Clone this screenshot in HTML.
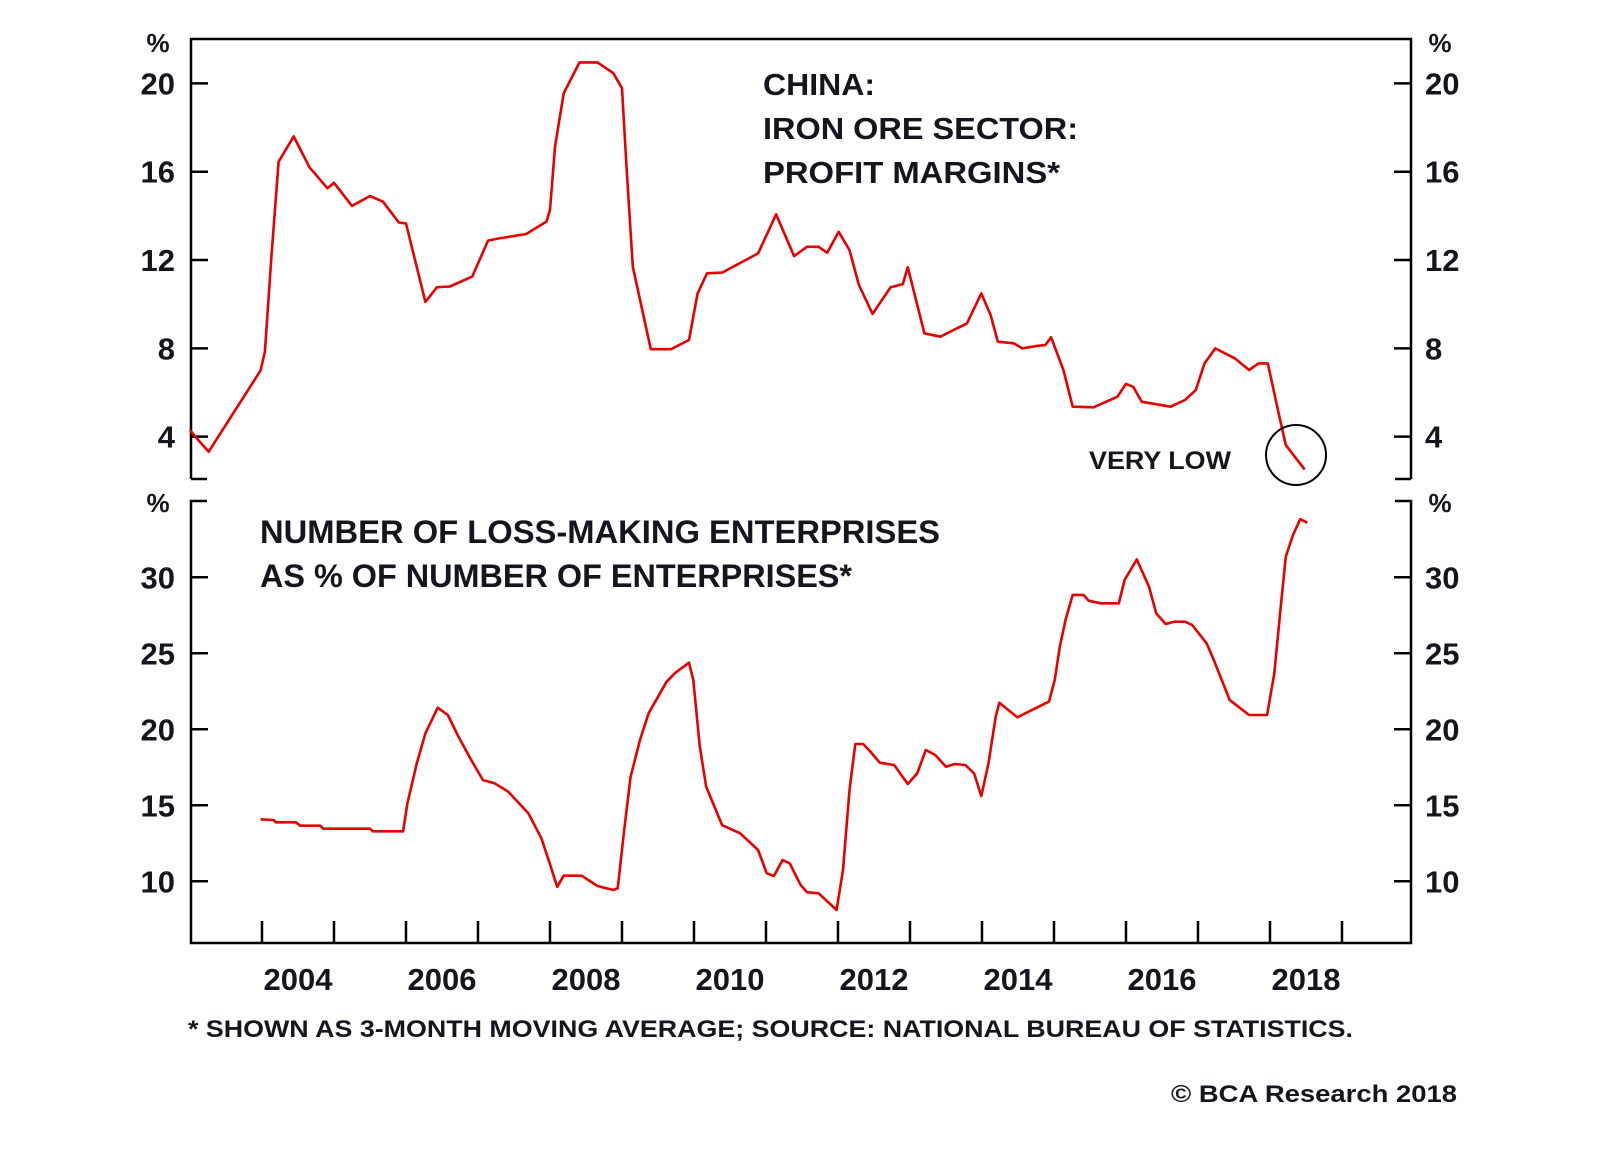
<!DOCTYPE html>
<html>
<head>
<meta charset="utf-8">
<style>
html,body{margin:0;padding:0;background:#fff;}
svg{display:block;}
text{font-family:"Liberation Sans",Arial,sans-serif;font-weight:bold;fill:#15151f;}
</style>
</head>
<body>
<svg id="chart" width="1600" height="1152" viewBox="0 0 1600 1152" xmlns="http://www.w3.org/2000/svg">
  <g id="frames" stroke="#000" stroke-width="2.5" fill="none">
    <polyline points="191,479 191,39 1411,39 1411,479"/>
    <line x1="191" y1="479" x2="207" y2="479"/>
    <line x1="1395" y1="479" x2="1411" y2="479"/>
    <polyline points="207,501 191,501 191,943 1411,943 1411,501 1395,501"/>
  </g>
  <g id="ticks" stroke="#000" stroke-width="2.5"></g>
  <g id="labels"></g>
  <g id="series"></g>

  <text x="158" y="52" font-size="26" text-anchor="middle">%</text>
  <text x="1440" y="52" font-size="26" text-anchor="middle">%</text>
  <text x="158" y="512" font-size="26" text-anchor="middle">%</text>
  <text x="1440" y="512" font-size="26" text-anchor="middle">%</text>

  <g>
    <text x="763" y="95" font-size="31" textLength="112" lengthAdjust="spacingAndGlyphs">CHINA:</text>
    <text x="763" y="139" font-size="31" textLength="315" lengthAdjust="spacingAndGlyphs">IRON ORE SECTOR:</text>
    <text x="763" y="183" font-size="31" textLength="297" lengthAdjust="spacingAndGlyphs">PROFIT MARGINS*</text>
  </g>
  <g>
    <text x="260" y="543" font-size="32" textLength="680" lengthAdjust="spacingAndGlyphs">NUMBER OF LOSS-MAKING ENTERPRISES</text>
    <text x="260" y="587" font-size="32" textLength="592" lengthAdjust="spacingAndGlyphs">AS % OF NUMBER OF ENTERPRISES*</text>
  </g>
  <text x="1089" y="469" font-size="25" textLength="142" lengthAdjust="spacingAndGlyphs">VERY LOW</text>
  <circle cx="1296" cy="455" r="30" fill="none" stroke="#000" stroke-width="2"/>
  <text x="188" y="1037" font-size="24" textLength="1165" lengthAdjust="spacingAndGlyphs">* SHOWN AS 3-MONTH MOVING AVERAGE; SOURCE: NATIONAL BUREAU OF STATISTICS.</text>
  <text x="1171" y="1102" font-size="24" textLength="286" lengthAdjust="spacingAndGlyphs">© BCA Research 2018</text>
</svg>
<script>
// ---- data ----
const xTickYears = [2004,2005,2006,2007,2008,2009,2010,2011,2012,2013,2014,2015,2016,2017,2018,2019];
const xLabelYears = [2004,2006,2008,2010,2012,2014,2016,2018];
const topTicks = [4,8,12,16,20];
const bottomTicks = [10,15,20,25,30];

const marginDates = [2003.0,2003.08,2003.26,2003.98,2004.04,2004.13,2004.23,2004.44,2004.66,2004.91,2005.0,2005.25,2005.5,2005.68,2005.9,2006.0,2006.27,2006.43,2006.61,2006.92,2007.14,2007.29,2007.67,2007.95,2008.0,2008.07,2008.19,2008.41,2008.66,2008.88,2009.0,2009.06,2009.15,2009.4,2009.68,2009.93,2010.05,2010.18,2010.39,2010.89,2011.14,2011.39,2011.57,2011.73,2011.85,2012.01,2012.16,2012.29,2012.48,2012.73,2012.9,2012.97,2013.2,2013.42,2013.79,2013.99,2014.12,2014.22,2014.44,2014.56,2014.74,2014.88,2014.96,2015.13,2015.26,2015.55,2015.88,2016.0,2016.1,2016.22,2016.62,2016.82,2016.97,2017.09,2017.24,2017.51,2017.71,2017.84,2017.97,2018.14,2018.22,2018.48];
const marginValues = [4.3,3.97,3.32,7.0,7.85,12.15,16.45,17.6,16.2,15.25,15.5,14.45,14.9,14.64,13.7,13.66,10.1,10.77,10.8,11.25,12.88,12.98,13.18,13.74,14.27,17.13,19.55,20.95,20.95,20.46,19.78,16.38,11.7,7.96,7.96,8.38,10.49,11.4,11.43,12.3,14.07,12.18,12.6,12.6,12.33,13.28,12.45,10.87,9.56,10.77,10.91,11.67,8.68,8.53,9.13,10.49,9.51,8.3,8.23,8.0,8.1,8.15,8.5,7.02,5.36,5.33,5.81,6.39,6.26,5.58,5.36,5.66,6.11,7.32,8.0,7.55,7.02,7.32,7.32,4.76,3.62,2.52];

const lossDates = [2003.98,2004.16,2004.19,2004.47,2004.53,2004.81,2004.85,2005.5,2005.54,2005.96,2006.02,2006.15,2006.27,2006.44,2006.58,2006.74,2006.92,2007.07,2007.23,2007.42,2007.7,2007.88,2007.98,2008.1,2008.19,2008.44,2008.66,2008.88,2008.94,2009.03,2009.12,2009.25,2009.37,2009.5,2009.62,2009.74,2009.93,2009.99,2010.08,2010.17,2010.39,2010.64,2010.89,2011.01,2011.11,2011.23,2011.33,2011.48,2011.57,2011.73,2011.98,2012.07,2012.16,2012.24,2012.35,2012.45,2012.58,2012.78,2012.97,2013.1,2013.22,2013.35,2013.5,2013.62,2013.77,2013.89,2013.99,2014.09,2014.19,2014.24,2014.49,2014.74,2014.93,2015.01,2015.08,2015.16,2015.26,2015.41,2015.48,2015.65,2015.9,2015.98,2016.15,2016.32,2016.42,2016.55,2016.67,2016.82,2016.92,2017.12,2017.22,2017.44,2017.56,2017.71,2017.96,2018.06,2018.14,2018.22,2018.32,2018.42,2018.52];
const lossValues = [14.08,14.03,13.88,13.88,13.66,13.66,13.46,13.46,13.29,13.29,15.13,17.76,19.74,21.42,20.94,19.41,17.87,16.66,16.45,15.9,14.47,12.83,11.4,9.64,10.37,10.37,9.69,9.43,9.54,13.38,16.88,19.3,21.05,22.14,23.13,23.72,24.38,23.24,18.86,16.22,13.7,13.16,12.06,10.53,10.35,11.4,11.18,9.76,9.28,9.21,8.11,10.74,16.0,19.03,19.03,18.53,17.8,17.65,16.4,17.1,18.64,18.31,17.54,17.72,17.65,17.1,15.61,17.76,20.83,21.75,20.79,21.38,21.82,23.24,25.43,27.19,28.84,28.84,28.46,28.29,28.29,29.82,31.18,29.38,27.63,26.93,27.08,27.08,26.86,25.66,24.56,21.93,21.49,20.94,20.94,23.68,27.63,31.36,32.78,33.82,33.59];

// ---- scales ----
function xScale(yr){ return 262 + (yr - 2004) * 72; }
function yTop(v){ return 525 - v * 22.08; }
function yBottom(v){ return 577.3 - (v - 30) * 15.2; }

const NS = 'http://www.w3.org/2000/svg';
const ticksG = document.getElementById('ticks');
const labelsG = document.getElementById('labels');
const seriesG = document.getElementById('series');

function mk(tag, attrs, parent){
  const el = document.createElementNS(NS, tag);
  for (const k in attrs) el.setAttribute(k, attrs[k]);
  parent.appendChild(el);
  return el;
}

xTickYears.forEach(function(yr){
  const x = xScale(yr);
  const t = mk('line', {x1:x, y1:943, x2:x, y2:921}, ticksG);
  
  
});
xLabelYears.forEach(function(yr){
  const t = mk('text', {x:xScale(yr + 0.5), y:990, 'font-size':31, 'text-anchor':'middle'}, labelsG);
  t.textContent = String(yr);
  
  
});

function yAxis(ticks, scale, prefix){
  ticks.forEach(function(v){
    const y = scale(v);
    const l = mk('line', {x1:191, y1:y, x2:208, y2:y}, ticksG);
    
    
    const r = mk('line', {x1:1394, y1:y, x2:1411, y2:y}, ticksG);
    
    
    const tl = mk('text', {x:175, y:y + 11, 'font-size':31, 'text-anchor':'end'}, labelsG);
    tl.textContent = String(v);
    
    
    const tr = mk('text', {x:1425, y:y + 11, 'font-size':31, 'text-anchor':'start'}, labelsG);
    tr.textContent = String(v);
    
    
  });
}
yAxis(topTicks, yTop, 'top-y');
yAxis(bottomTicks, yBottom, 'bottom-y');

function drawLine(dates, vals, scale, name){
  const pts = dates.map(function(d, i){ return xScale(d).toFixed(1) + ',' + scale(vals[i]).toFixed(1); }).join(' ');
  const p = mk('polyline', {points:pts, fill:'none', stroke:'#e60000', 'stroke-width':2.6, 'stroke-linejoin':'round'}, seriesG);
  
  
}
drawLine(marginDates, marginValues, yTop, 'profit-margin-line');
drawLine(lossDates, lossValues, yBottom, 'loss-making-share-line');
</script>
</body>
</html>
